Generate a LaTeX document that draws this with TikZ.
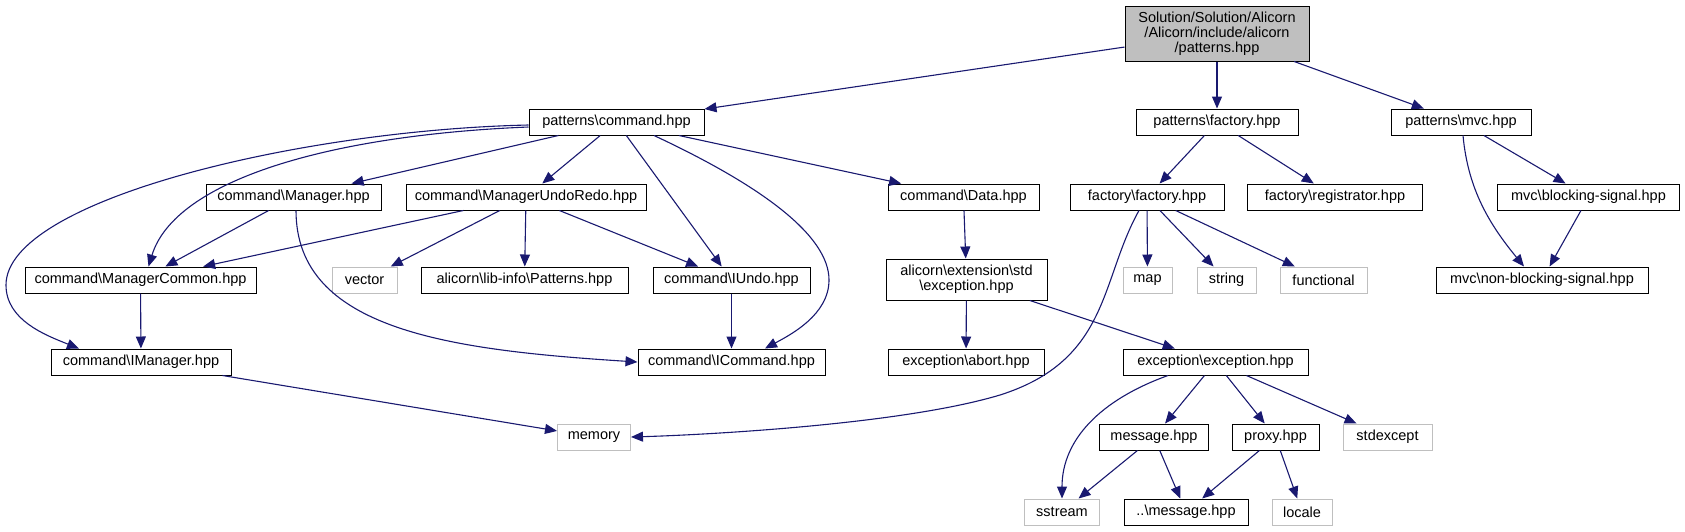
\documentclass[tikz,border=0pt]{standalone}
\usepackage{fontspec}
\setmainfont{Liberation Sans}
\usetikzlibrary{arrows.meta}
\definecolor{edgeblue}{HTML}{191970}
\definecolor{rootgray}{HTML}{BFBFBF}
\newcommand{\bsl}{\textbackslash{}}
\begin{document}
\begin{tikzpicture}[x=1pt, y=-1pt,
    file/.style={draw=black, line width=1pt, fill=white, rectangle, inner sep=0pt,
                 minimum height=26pt, font=\fontsize{14.5}{15}\selectfont, align=center},
    sysfile/.style={file, draw=rootgray},
    edge/.style={draw=edgeblue, line width=1.1pt, -{Triangle[length=12pt,width=10pt]}}]
        \useasboundingbox (0,0) rectangle (1685,531);
        % Root file
        \node[file, fill=rootgray, minimum width=184pt, minimum height=55pt] (root) at (1217,33.5)
            {Solution/Solution/Alicorn\\/Alicorn/include/alicorn\\/patterns.hpp};
        % First level
        \node[file, minimum width=175pt] (pcmd) at (616.5,122) {patterns\bsl command.hpp};
        \node[file, minimum width=162pt] (pfac) at (1217,122) {patterns\bsl factory.hpp};
        \node[file, minimum width=140pt] (pmvc) at (1461,122) {patterns\bsl mvc.hpp};
        % Second level
        \node[file, minimum width=175pt] (mgr) at (293.5,197) {command\bsl Manager.hpp};
        \node[file, minimum width=240pt] (undo) at (526,197) {command\bsl ManagerUndoRedo.hpp};
        \node[file, minimum width=151pt] (data) at (963.5,197) {command\bsl Data.hpp};
        \node[file, minimum width=154pt] (ffac) at (1147,197) {factory\bsl factory.hpp};
        \node[file, minimum width=175pt] (reg) at (1335,197) {factory\bsl registrator.hpp};
        \node[file, minimum width=182pt] (bsig) at (1588.5,197) {mvc\bsl blocking-signal.hpp};
        % Third level
        \node[file, minimum width=231pt] (mcom) at (140.5,280) {command\bsl ManagerCommon.hpp};
        \node[sysfile, minimum width=65pt] (vec) at (364.5,280) {vector};
        \node[file, minimum width=207pt] (linfo) at (524.5,280) {alicorn\bsl lib-info\bsl Patterns.hpp};
        \node[file, minimum width=157pt] (iundo) at (731.5,280) {command\bsl IUndo.hpp};
        \node[file, minimum width=161pt, minimum height=41pt] (exstd) at (966.5,279.5)
            {alicorn\bsl extension\bsl std\\\bsl exception.hpp};
        \node[sysfile, minimum width=49pt] (map) at (1147.5,280) {map};
        \node[sysfile, minimum width=59pt] (string) at (1226.5,280) {string};
        \node[sysfile, minimum width=87pt] (func) at (1323.5,280) {functional};
        \node[file, minimum width=212pt] (nbsig) at (1542,280) {mvc\bsl non-blocking-signal.hpp};
        % Fourth level
        \node[file, minimum width=180pt] (imgr) at (141,362) {command\bsl IManager.hpp};
        \node[file, minimum width=187pt] (icmd) at (731.5,362) {command\bsl ICommand.hpp};
        \node[file, minimum width=156pt] (abort) at (966,362) {exception\bsl abort.hpp};
        \node[file, minimum width=185pt] (exexc) at (1215.5,362) {exception\bsl exception.hpp};
        % Fifth level
        \node[sysfile, minimum width=73pt] (memory) at (594,437) {memory};
        \node[file, minimum width=109pt] (msg) at (1154,437) {message.hpp};
        \node[file, minimum width=87pt] (proxy) at (1275.5,437) {proxy.hpp};
        \node[sysfile, minimum width=89pt] (stdexc) at (1387.5,437) {stdexcept};
        % Sixth level
        \node[sysfile, minimum width=75pt] (sstream) at (1062,512) {sstream};
        \node[file, minimum width=124pt] (dmsg) at (1186,512) {..\bsl message.hpp};
        \node[sysfile, minimum width=60pt] (locale) at (1302,512) {locale};

        % Includes of the root
        \draw[edge] (root) -- (pcmd);
        \draw[edge] (root) -- (pfac);
        \draw[edge] (root) -- (pmvc);
        % Includes of patterns\command.hpp
        \draw[edge] (pcmd) -- (mgr);
        \draw[edge] (pcmd) -- (undo);
        \draw[edge] (pcmd) -- (data);
        \draw[edge] (pcmd) -- (iundo);
        \draw[edge] ([yshift=-5pt]pcmd.west) .. controls (330,135) and (175,180) .. ([xshift=8pt]mcom.north);
        \draw[edge] ([yshift=-3pt]pcmd.west) .. controls (300,130) and (6,200) .. (6,285)
            .. controls (6,320) and (45,335) .. ([xshift=-62pt]imgr.north);
        \draw[edge] ([xshift=37.5pt]pcmd.south) .. controls (760,185) and (829,235) .. (829,280)
            .. controls (829,315) and (790,335) .. ([xshift=33.5pt]icmd.north);
        % Command internals
        \draw[edge] (mgr) -- (mcom);
        \draw[edge] ([xshift=2.5pt]mgr.south) .. controls (296,330) and (450,350) .. (icmd.west);
        \draw[edge] (undo) -- (mcom);
        \draw[edge] (undo) -- (vec);
        \draw[edge] (undo) -- (linfo);
        \draw[edge] (undo) -- (iundo);
        \draw[edge] (mcom) -- (imgr);
        \draw[edge] (iundo) -- (icmd);
        \draw[edge] (imgr) -- (memory);
        % Data and exceptions
        \draw[edge] (data) -- (exstd);
        \draw[edge] (exstd) -- (abort);
        \draw[edge] (exstd) -- (exexc);
        \draw[edge] ([xshift=-47.5pt]exexc.south) .. controls (1100,400) and (1062,440) .. (sstream.north);
        \draw[edge] (exexc) -- (msg);
        \draw[edge] (exexc) -- (proxy);
        \draw[edge] (exexc) -- (stdexc);
        \draw[edge] (msg) -- (sstream);
        \draw[edge] (msg) -- (dmsg);
        \draw[edge] (proxy) -- (dmsg);
        \draw[edge] (proxy) -- (locale);
        % Factory
        \draw[edge] (pfac) -- (ffac);
        \draw[edge] (pfac) -- (reg);
        \draw[edge] (ffac) -- (map);
        \draw[edge] (ffac) -- (string);
        \draw[edge] (ffac) -- (func);
        \draw[edge] ([xshift=-8pt]ffac.south) .. controls (1100,280) and (1110,360) .. (1000,395)
            .. controls (900,425) and (700,435) .. (memory.east);
        % MVC
        \draw[edge] (pmvc) -- (bsig);
        \draw[edge] (bsig) -- (nbsig);
        \draw[edge] ([xshift=2pt]pmvc.south) .. controls (1468,190) and (1490,225) .. ([xshift=-18pt]nbsig.north);
\end{tikzpicture}
\end{document}
